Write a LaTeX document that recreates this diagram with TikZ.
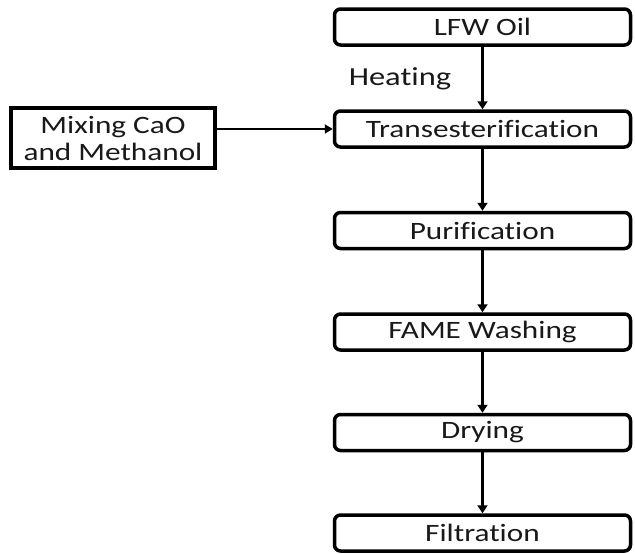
\documentclass[tikz,border=0pt]{standalone}
\usepackage{fontspec}
\setmainfont{Carlito}[FakeStretch=1.25,Ligatures=NoCommon]
\usetikzlibrary{arrows.meta}
\begin{document}
\begin{tikzpicture}[x=1pt,y=-1pt,
  stepbox/.style={draw=black,line width=3.5pt,rounded corners=6pt,minimum width=296pt,minimum height=36pt,inner sep=0pt,font=\fontsize{25}{27}\selectfont,text=black!90},
  sqbox/.style={draw=black,line width=4pt,minimum width=204pt,minimum height=60pt,inner sep=0pt,align=center,font=\fontsize{25}{27}\selectfont,text=black!90},
  flow/.style={line width=3.2pt,-{Triangle[length=8pt,width=10pt]}},
  hflow/.style={line width=2.8pt,-{Triangle[length=8pt,width=9pt]}}]
\useasboundingbox (0,0) rectangle (635,554);
\node[stepbox] (lfw) at (482.5,27) {LFW Oil};
\node[stepbox] (tr) at (482.5,129) {Transesterification};
\node[stepbox] (pu) at (482.5,230.5) {Purification};
\node[stepbox] (fa) at (482.5,332) {FAME Washing};
\node[stepbox] (dr) at (482.5,432.5) {Drying};
\node[stepbox] (fi) at (482.5,533) {Filtration};
\node[sqbox] (mix) at (113,138) {Mixing CaO\\and Methanol};
\node[font=\fontsize{26}{28}\selectfont,text=black!90] (heat) at (400,79) {Heating};
\draw[flow] (lfw) -- (tr);
\draw[flow] (tr) -- (pu);
\draw[flow] (pu) -- (fa);
\draw[flow] (fa) -- (dr);
\draw[flow] (dr) -- (fi);
\draw[hflow] (mix.east |- tr.west) -- (tr.west);
\end{tikzpicture}
\end{document}
